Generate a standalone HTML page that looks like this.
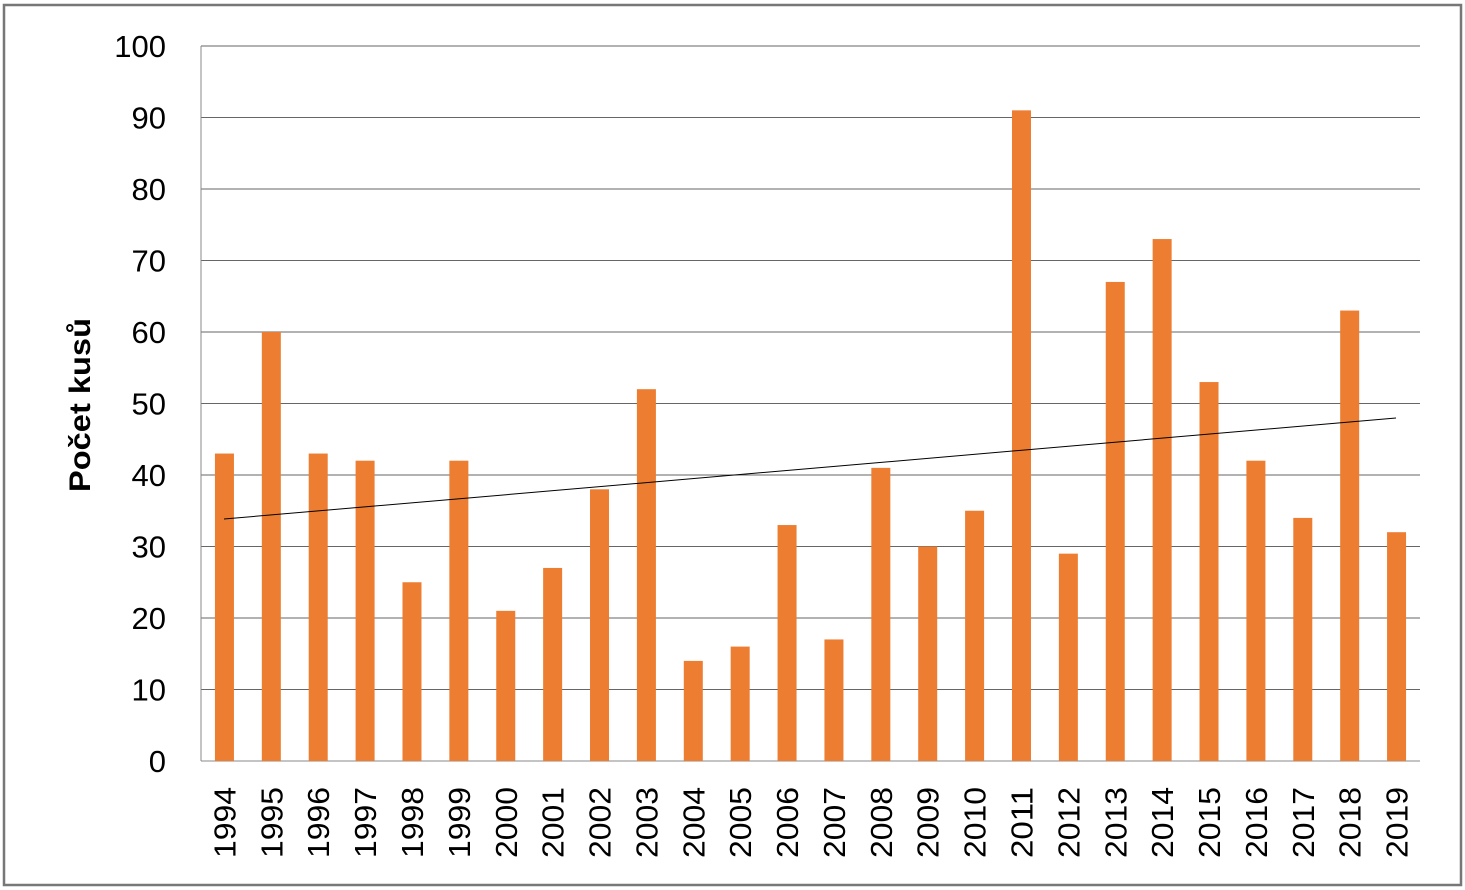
<!DOCTYPE html>
<html><head><meta charset="utf-8"><style>
html,body{margin:0;padding:0;background:#fff;}
svg{display:block;font-family:"Liberation Sans",sans-serif;}
</style></head><body>
<svg width="1465" height="890" viewBox="0 0 1465 890" xmlns="http://www.w3.org/2000/svg">
<rect x="0" y="0" width="1465" height="890" fill="#fff"/>
<rect x="4" y="5" width="1457" height="880" fill="none" stroke="#777" stroke-width="2.5"/>
<g id="grid" stroke="#888" stroke-width="1"></g>
<g id="bars" fill="#ED7D31"></g>
<g id="labels" font-size="31" fill="#000"></g>
<line x1="224" y1="519" x2="1396" y2="418" stroke="#000" stroke-width="1"/>
<text transform="translate(90,405) rotate(-90)" text-anchor="middle" font-size="30" font-weight="bold" textLength="174" lengthAdjust="spacingAndGlyphs">Počet kusů</text>
<script>
(function(){
var ns="http://www.w3.org/2000/svg";
function el(t,a,p,txt){var e=document.createElementNS(ns,t);for(var k in a)e.setAttribute(k,a[k]);if(txt!=null)e.textContent=txt;document.getElementById(p).appendChild(e);}
var T=46,B=761,L=201,R=1420,s=(B-T)/100;
for(var v=0;v<=100;v+=10){var y=B-v*s;el("line",{x1:L,x2:R,y1:y,y2:y,stroke:v==0?"#888":"#666"},"grid");
el("text",{x:166,y:y+11,"text-anchor":"end"},"labels",String(v));}
el("line",{x1:L,x2:L,y1:T,y2:B},"grid");
var d=[43,60,43,42,25,42,21,27,38,52,14,16,33,17,41,30,35,91,29,67,73,53,42,34,63,32];
var w=(R-L)/26;
d.forEach(function(v,i){var cx=L+w*(i+0.5);el("rect",{x:cx-9.5,y:B-v*s,width:19,height:v*s},"bars");
el("text",{transform:"translate("+(cx+11)+",858) rotate(-90)","text-anchor":"start",textLength:71,lengthAdjust:"spacingAndGlyphs"},"labels",String(1994+i));});
})();
</script>
</svg>
</body></html>
